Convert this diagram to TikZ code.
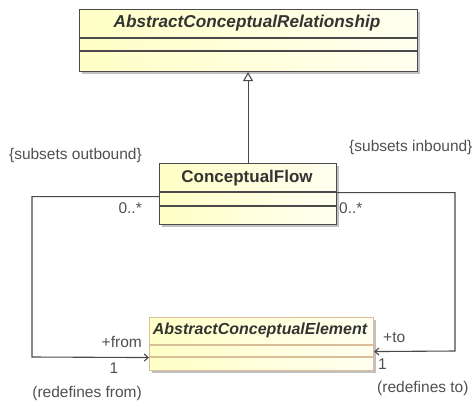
\documentclass[tikz,border=0pt]{standalone}
\usepackage{fontspec}
\setmainfont{Liberation Sans}
\usetikzlibrary{arrows.meta,shadows}
\definecolor{umlline}{HTML}{4A4A4A}
\definecolor{umlfill}{HTML}{FFFFC6}
\definecolor{elemline}{HTML}{D9BE98}
\definecolor{lbltext}{HTML}{505050}
\begin{document}
\begin{tikzpicture}[x=1pt,y=-1pt,
  umlbox/.style={draw=umlline,line width=1.1pt,left color=umlfill,right color=umlfill!25,
    inner sep=0pt,anchor=north west,
    drop shadow={shadow xshift=2pt,shadow yshift=-2pt,fill=black!35,opacity=.7}},
  umlname/.style={font=\fontsize{17}{19}\selectfont\bfseries,text=black!80},
  lbl/.style={font=\fontsize{15.5}{18}\selectfont,text=lbltext,inner sep=0pt},
  assoc/.style={draw=umlline,line width=1.1pt,-{Straight Barb[length=4pt,width=7pt]}}]
\useasboundingbox (0,0) rectangle (476,402);

\node[umlbox,minimum width=338pt,minimum height=62pt] (top) at (79,9) {};
\node[umlbox,minimum width=177pt,minimum height=61pt] (flow) at (159,163) {};
\node[umlbox,draw=elemline,minimum width=224pt,minimum height=53pt] (elem) at (149,317) {};

\draw[umlline,line width=1.1pt] ([yshift=-29pt]top.north west) -- ([yshift=-29pt]top.north east);
\draw[umlline,line width=1.1pt] ([yshift=-42pt]top.north west) -- ([yshift=-42pt]top.north east);
\draw[umlline,line width=1.1pt] ([yshift=-29pt]flow.north west) -- ([yshift=-29pt]flow.north east);
\draw[umlline,line width=1.1pt] ([yshift=-43pt]flow.north west) -- ([yshift=-43pt]flow.north east);
\draw[elemline,line width=1.1pt] ([yshift=-28pt]elem.north west) -- ([yshift=-28pt]elem.north east);
\draw[elemline,line width=1.1pt] ([yshift=-40pt]elem.north west) -- ([yshift=-40pt]elem.north east);

\node[umlname,font=\fontsize{17.2}{19}\selectfont\bfseries\itshape] (topname) at (247,23) {AbstractConceptualRelationship};
\node[umlname] (flowname) at (247,178) {ConceptualFlow};
\node[umlname,font=\fontsize{16}{18}\selectfont\bfseries\itshape] (elemname) at (260,330) {AbstractConceptualElement};

\draw[umlline,line width=1.1pt,-{Triangle[open,length=9pt,width=10pt]}] (flow.north) -- (flow.north |- top.south);

\coordinate (fromend) at ([yshift=-13.5pt]elem.west);
\coordinate (toend) at ([yshift=-7.5pt]elem.east);
\coordinate (leftbend) at (32,357);
\coordinate (rightbend) at (455,351);
\draw[assoc] ([yshift=-2.5pt]flow.west) -| (leftbend) -- (fromend);
\draw[assoc] ([yshift=1.5pt]flow.east) -| (rightbend) -- (toend);

\node[lbl,anchor=east] (outb) at (142,155) {\{subsets outbound\}};
\node[lbl,anchor=west] (inb) at (349,147) {\{subsets inbound\}};
\node[lbl,anchor=east] (mulfrom) at (142,208) {0..*};
\node[lbl,anchor=west] (multo) at (339,208) {0..*};
\node[lbl,anchor=east] (fromrole) at (142,342) {+from};
\node[lbl] (onefrom) at (114,368) {1};
\node[lbl,anchor=east] (redfrom) at (142,393) {(redefines from)};
\node[lbl,anchor=west] (torole) at (383,338) {+to};
\node[lbl,anchor=west] (oneto) at (378,364) {1};
\node[lbl,anchor=west] (redto) at (377,388) {(redefines to)};
\end{tikzpicture}
\end{document}
